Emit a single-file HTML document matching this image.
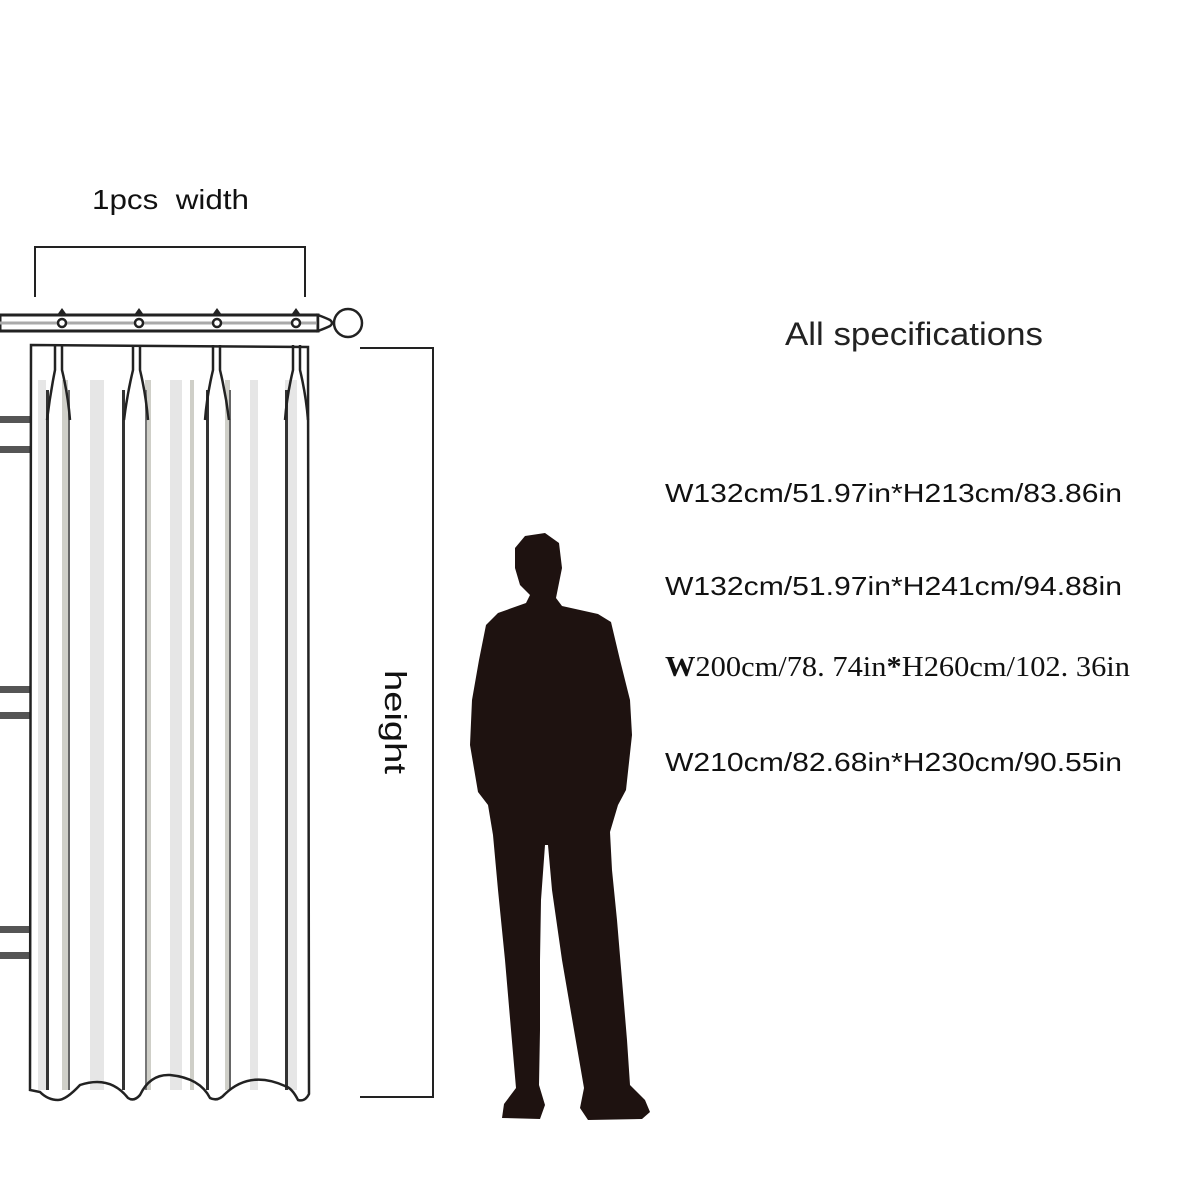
<!DOCTYPE html>
<html><head><meta charset="utf-8"><style>
html,body{margin:0;padding:0;background:#fff;}
svg{display:block;}
</style></head><body>
<svg width="1200" height="1200" viewBox="0 0 1200 1200" xmlns="http://www.w3.org/2000/svg">
<rect width="1200" height="1200" fill="#fff"/>
<g fill="#555">
<rect x="0" y="416" width="30" height="7"/><rect x="0" y="446" width="30" height="7"/>
<rect x="0" y="686" width="30" height="7"/><rect x="0" y="712" width="30" height="7"/>
<rect x="0" y="926" width="30" height="7"/><rect x="0" y="952" width="30" height="7"/>
</g>
<g>
<rect x="32" y="345" width="276" height="750" fill="#fff"/>
<g fill="#e6e6e6">
<rect x="38" y="380" width="8" height="710"/><rect x="90" y="380" width="14" height="710"/>
<rect x="170" y="380" width="12" height="710"/><rect x="250" y="380" width="8" height="710"/>
<rect x="285" y="380" width="12" height="710"/>
</g>
<g fill="#cfcfc8">
<rect x="62" y="380" width="6" height="710"/><rect x="145" y="380" width="6" height="710"/>
<rect x="225" y="380" width="5" height="710"/><rect x="190" y="380" width="4" height="710"/>
</g>
<g fill="#333">
<rect x="46" y="390" width="3" height="700"/><rect x="122" y="390" width="3" height="700"/>
<rect x="206" y="390" width="3" height="700"/><rect x="285" y="390" width="3" height="700"/>
<rect x="68" y="390" width="2" height="700" fill="#666"/><rect x="145" y="390" width="2" height="700" fill="#777"/>
<rect x="229" y="390" width="2" height="700" fill="#666"/>
</g>
</g>
<g fill="none" stroke="#222" stroke-width="2.5">
<path d="M55 345 L55 370 Q50 395 47 420"/><path d="M62 345 L62 370 Q68 395 70 420"/>
<path d="M133 345 L133 370 Q127 395 124 420"/><path d="M140 345 L140 370 Q146 395 148 420"/>
<path d="M213 345 L213 370 Q207 395 205 420"/><path d="M220 345 L220 370 Q226 395 229 420"/>
<path d="M293 345 L293 370 Q287 395 285 420"/><path d="M300 345 L300 370 Q306 395 308 420"/>
</g>
<path d="M31 345 L308 347 L309 1094 Q305 1102 298 1100 Q292 1088 285 1086 Q250 1070 225 1094 Q218 1102 210 1098 Q200 1078 170 1075 Q150 1074 140 1095 Q134 1102 128 1098 Q110 1075 80 1085 Q66 1100 58 1100 Q48 1100 40 1092 L30 1090 Z" fill="none" stroke="#222" stroke-width="2.5"/>
<!-- rod -->
<rect x="0" y="315" width="318" height="16" fill="#fff" stroke="#222" stroke-width="3"/>
<line x1="0" y1="323" x2="316" y2="323" stroke="#aaa" stroke-width="3"/>
<g fill="#fff" stroke="#222" stroke-width="2.5">
<path d="M318 315 Q326 318 330 320 Q334 323 330 326 Q326 328 318 331 Z"/>
<circle cx="348" cy="323" r="14"/>
<circle cx="62" cy="323" r="4"/><circle cx="139" cy="323" r="4"/><circle cx="217" cy="323" r="4"/><circle cx="296" cy="323" r="4"/>
</g>
<g fill="#222">
<path d="M57 315 L62 308 L67 315 Z"/><path d="M134 315 L139 308 L144 315 Z"/>
<path d="M212 315 L217 308 L222 315 Z"/><path d="M291 315 L296 308 L301 315 Z"/>
</g>
<path d="M35 297 L35 247 L305 247 L305 297" fill="none" stroke="#222" stroke-width="2"/>
<text x="92" y="209" font-family="Liberation Sans, sans-serif" font-size="28" fill="#111" textLength="157" lengthAdjust="spacingAndGlyphs" xml:space="preserve">1pcs  width</text>
<path d="M360 348 L433 348 L433 1097 L360 1097" fill="none" stroke="#222" stroke-width="2"/>
<text transform="translate(385 722) rotate(90)" text-anchor="middle" font-family="Liberation Sans, sans-serif" font-size="31" fill="#111" textLength="104" lengthAdjust="spacingAndGlyphs">height</text>
<path fill="#1e1210" d="M515 548 L525 536 L545 533 L559 543 L562 568 L558 588 L556 598 L562 606 L598 614 L611 622 L620 660 L630 700 L632 735 L626 790 L618 805 L610 832 L612 870 L617 920 L622 980 L627 1040 L630 1085 L645 1100 L650 1112 L642 1119 L588 1120 L580 1108 L584 1088 L574 1030 L562 960 L552 890 L548 845 L545 845 L541 900 L540 960 L540 1030 L539 1085 L545 1105 L540 1119 L502 1118 L504 1104 L516 1088 L511 1030 L505 960 L498 890 L493 835 L488 805 L478 792 L470 745 L472 700 L479 660 L486 625 L498 613 L526 603 L530 595 L520 585 L515 568 Z"/>
<text x="785" y="345" font-family="Liberation Sans, sans-serif" font-size="32" fill="#222" textLength="258" lengthAdjust="spacingAndGlyphs">All specifications</text>
<g font-family="Liberation Sans, sans-serif" font-size="26" fill="#111">
<text x="665" y="502" textLength="457" lengthAdjust="spacingAndGlyphs">W132cm/51.97in*H213cm/83.86in</text>
<text x="665" y="595" textLength="457" lengthAdjust="spacingAndGlyphs">W132cm/51.97in*H241cm/94.88in</text>
<text x="665" y="771" textLength="457" lengthAdjust="spacingAndGlyphs">W210cm/82.68in*H230cm/90.55in</text>
</g>
<text x="665" y="676" font-family="Liberation Serif, serif" font-size="28" fill="#111" textLength="465" lengthAdjust="spacingAndGlyphs"><tspan font-weight="bold">W</tspan>200cm/78. 74in<tspan font-weight="bold">*</tspan>H260cm/102. 36in</text>
</svg>
</body></html>
